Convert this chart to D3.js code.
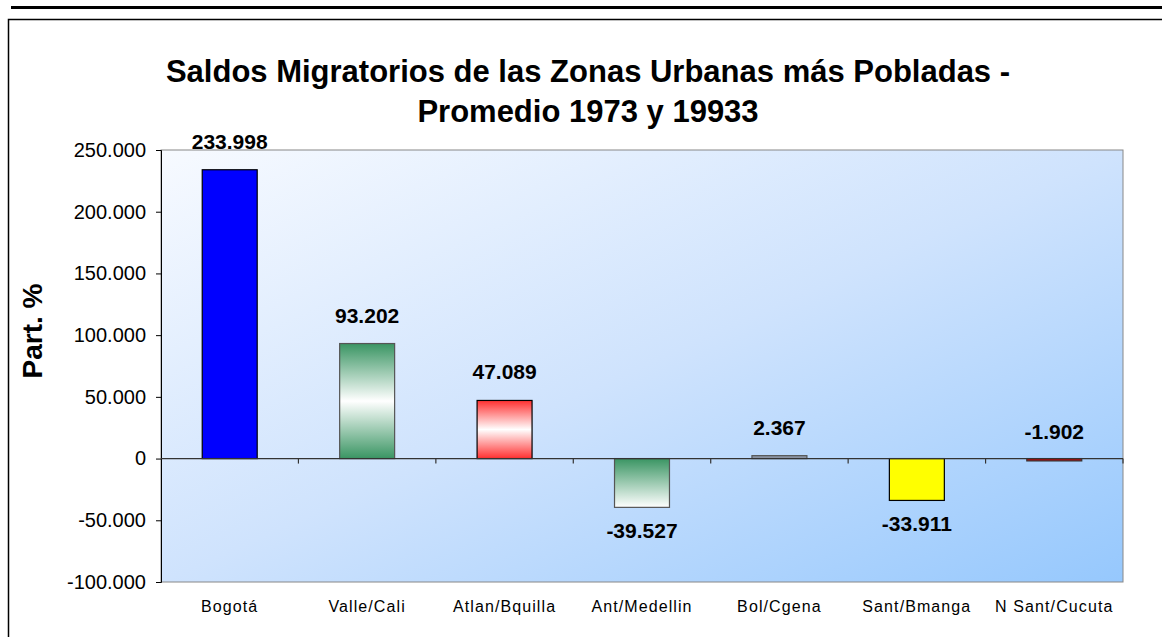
<!DOCTYPE html>
<html>
<head>
<meta charset="utf-8">
<script src="https://cdn.jsdelivr.net/npm/d3@7"></script>
<style>
  body { margin: 0; background: #fff; }
  svg { display: block; font-family: Arial, "Liberation Sans", sans-serif; }
</style>
</head>
<body>
<div class="canvas"></div>
<script>
// data
const categories = ['Bogotá', 'Valle/Cali', 'Atlan/Bquilla', 'Ant/Medellin', 'Bol/Cgena', 'Sant/Bmanga', 'N Sant/Cucuta'];
const values = [233998, 93202, 47089, -39527, 2367, -33911, -1902];
const yTicks = [-100000, -50000, 0, 50000, 100000, 150000, 200000, 250000];
const titleLines = ['Saldos Migratorios de las Zonas Urbanas más Pobladas -', 'Promedio 1973 y 19933'];

// bar look, one per category
const barFills = ['#0000ff', 'url(#gGreenMid)', 'url(#gRedMid)', 'url(#gGreenTop)', '#8c96a6', '#ffff00', '#cc0000'];
const barStrokes = ['#000', '#555', '#000', '#555', '#555', '#000', '#333'];

const dims = { width: 1162, height: 637 };
const plot = { left: 161, top: 150, right: 1123, bottom: 582 };

const loc = d3.formatLocale({ decimal: ',', thousands: '.', grouping: [3], currency: ['$', ''], minus: '-' });
const fmt = loc.format(',d');

const svg = d3.select('.canvas')
    .append('svg')
    .attr('width', dims.width)
    .attr('height', dims.height);

const defs = svg.append('defs');

// plot background gradient
const bg = defs.append('linearGradient')
    .attr('id', 'gBg')
    .attr('x1', 0).attr('y1', 0).attr('x2', 1).attr('y2', 1);
bg.append('stop').attr('offset', '0%').attr('stop-color', '#f7faff');
bg.append('stop').attr('offset', '50%').attr('stop-color', '#cfe3fd');
bg.append('stop').attr('offset', '100%').attr('stop-color', '#96c8fd');

//banded gradients for the bars
const midGrad = (id, col) => {
    const g = defs.append('linearGradient').attr('id', id)
        .attr('x1', 0).attr('y1', 0).attr('x2', 0).attr('y2', 1);
    g.append('stop').attr('offset', '0%').attr('stop-color', col);
    g.append('stop').attr('offset', '50%').attr('stop-color', '#ffffff');
    g.append('stop').attr('offset', '100%').attr('stop-color', col);
};
midGrad('gGreenMid', '#3a9563');
midGrad('gRedMid', '#ff3030');
const gt = defs.append('linearGradient').attr('id', 'gGreenTop')
    .attr('x1', 0).attr('y1', 0).attr('x2', 0).attr('y2', 1);
gt.append('stop').attr('offset', '0%').attr('stop-color', '#3a9563');
gt.append('stop').attr('offset', '100%').attr('stop-color', '#ffffff');

// top rule and outer frame
svg.append('rect')
    .attr('x', 11).attr('y', 6).attr('width', dims.width - 11).attr('height', 3)
    .attr('fill', '#000');
svg.append('rect')
    .attr('x', 8.5).attr('y', 19.5).attr('width', dims.width).attr('height', dims.height)
    .attr('fill', 'none').attr('stroke', '#000').attr('stroke-width', 1.5);

// title
svg.append('text')
    .attr('x', 588).attr('y', 82)
    .attr('text-anchor', 'middle')
    .attr('font-size', 31).attr('font-weight', 'bold')
    .selectAll('tspan')
    .data(titleLines)
    .enter().append('tspan')
        .attr('x', 588)
        .attr('dy', (d, i) => i === 0 ? 0 : 40)
        .text(d => d);

// scales
const x = d3.scaleBand()
    .domain(categories)
    .range([plot.left, plot.right])
    .paddingInner(0.6)
    .paddingOuter(0.3);

const y = d3.scaleLinear()
    .domain([-100000, 250000])
    .range([plot.bottom, plot.top]);

// plot area
svg.append('rect')
    .attr('x', plot.left).attr('y', plot.top)
    .attr('width', plot.right - plot.left).attr('height', plot.bottom - plot.top)
    .attr('fill', 'url(#gBg)')
    .attr('stroke', '#888').attr('stroke-width', 1);

// y axis
const yAxis = d3.axisLeft(y)
    .tickValues(yTicks)
    .tickSize(5)
    .tickPadding(10)
    .tickFormat(d => fmt(d));

const yG = svg.append('g')
    .attr('transform', `translate(${plot.left}, 0)`)
    .call(yAxis);
yG.select('.domain').attr('stroke', '#000');
yG.selectAll('.tick line').attr('stroke', '#000');
yG.selectAll('text')
    .attr('font-size', 20)
    .attr('font-family', 'Arial, "Liberation Sans", sans-serif')
    .attr('fill', '#000');

// y title
svg.append('text')
    .attr('transform', 'translate(42, 331) rotate(-90)')
    .attr('text-anchor', 'middle')
    .attr('font-size', 28).attr('font-weight', 'bold')
    .text('Part. %');

// bars
svg.append('g')
    .selectAll('rect')
    .data(values)
    .enter().append('rect')
        .attr('x', (d, i) => x(categories[i]))
        .attr('width', x.bandwidth())
        .attr('y', d => y(Math.max(0, d)))
        .attr('height', d => Math.abs(y(d) - y(0)))
        .attr('fill', (d, i) => barFills[i])
        .attr('stroke', (d, i) => barStrokes[i])
        .attr('stroke-width', 1.2);

// zero line and category ticks
svg.append('line')
    .attr('x1', plot.left).attr('x2', plot.right)
    .attr('y1', y(0)).attr('y2', y(0))
    .attr('stroke', '#333').attr('stroke-width', 1.2);

const catTicks = d3.range(1, categories.length + 1).map(i => plot.left + i * (plot.right - plot.left) / categories.length);
svg.append('g')
    .selectAll('line')
    .data(catTicks)
    .enter().append('line')
        .attr('x1', d => d).attr('x2', d => d)
        .attr('y1', y(0)).attr('y2', y(0) + 5)
        .attr('stroke', '#333').attr('stroke-width', 1.2);

// value labels
svg.append('g')
    .selectAll('text')
    .data(values)
    .enter().append('text')
        .attr('x', (d, i) => x(categories[i]) + x.bandwidth() / 2)
        .attr('y', d => {
            if (d >= 0) return y(d) - 21;
            if (d > -10000) return y(0) - 20;
            return y(d) + 31;
        })
        .attr('text-anchor', 'middle')
        .attr('font-size', 21).attr('font-weight', 'bold')
        .text(d => fmt(d));

// category labels
svg.append('g')
    .selectAll('text')
    .data(categories)
    .enter().append('text')
        .attr('x', d => x(d) + x.bandwidth() / 2)
        .attr('y', 612)
        .attr('text-anchor', 'middle')
        .attr('font-size', 16)
        .attr('letter-spacing', 1.1)
        .text(d => d);
</script>
</body>
</html>
